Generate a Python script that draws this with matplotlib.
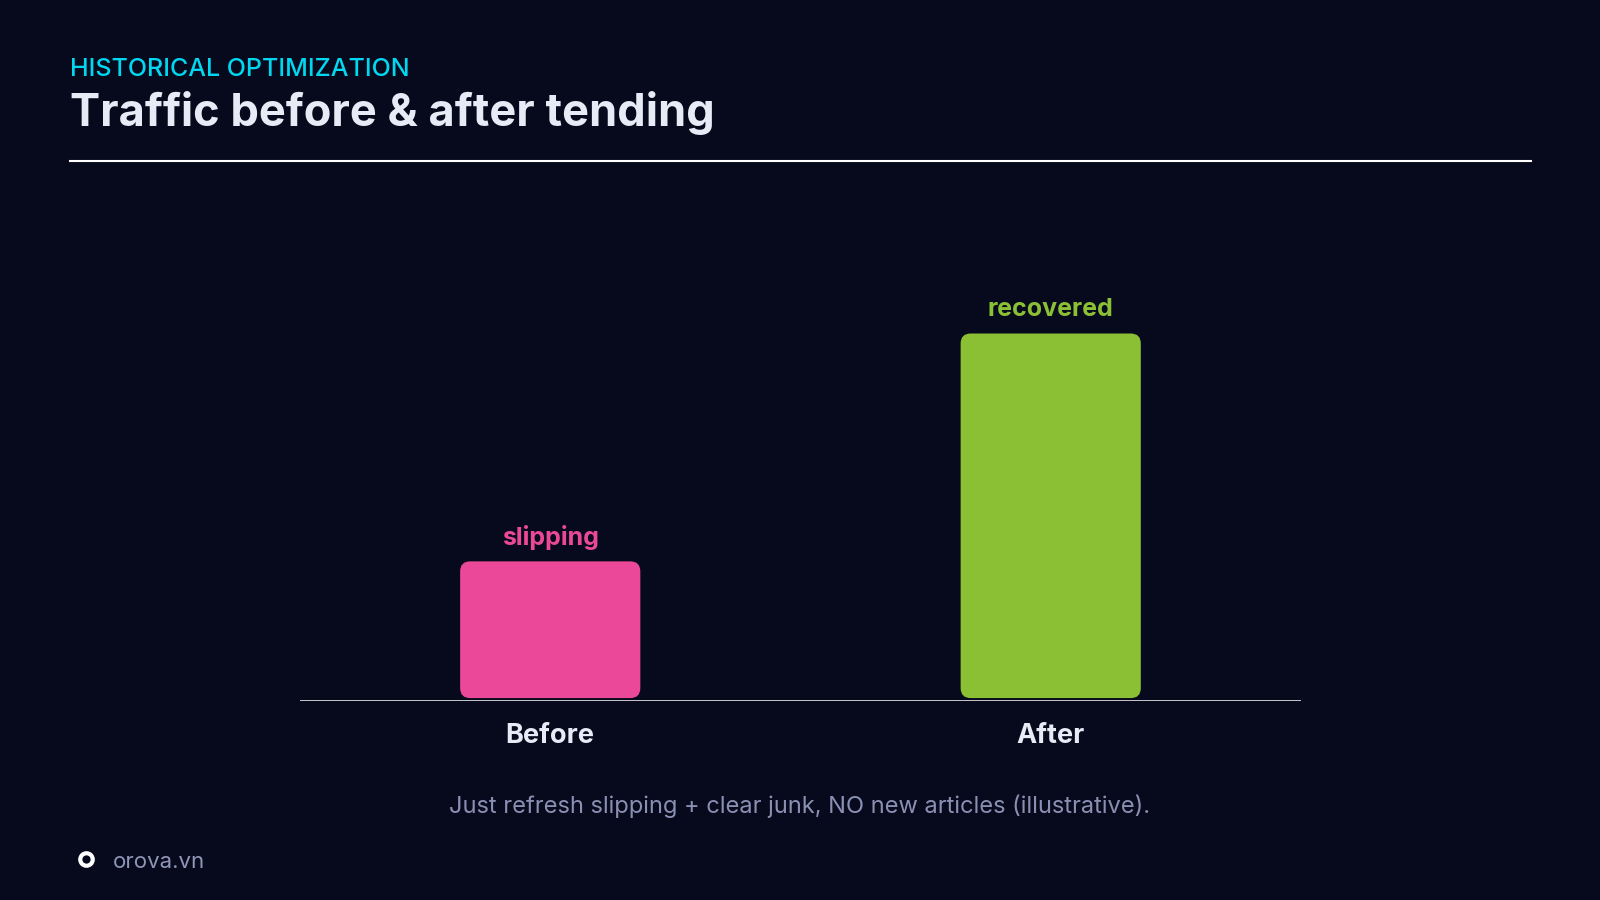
import matplotlib
matplotlib.use("Agg")
import matplotlib.pyplot as plt
from matplotlib.patches import FancyBboxPatch
from matplotlib.lines import Line2D

plt.rcParams['font.family'] = ['Inter', 'DejaVu Sans']

# Data
categories = ["Before", "After"]
values = [38, 100]
bar_labels = ["slipping", "recovered"]
bar_colors = ["#EC4899", "#8BC034"]

kicker = "HISTORICAL OPTIMIZATION"
title = "Traffic before & after tending"
footnote = "Just refresh slipping + clear junk, NO new articles (illustrative)."
brand = "orova.vn"

bg = "#070A1C"
text_light = "#E8EAF6"
muted = "#8A90B3"

fig = plt.figure(figsize=(16, 9), dpi=100, facecolor=bg)
ax = fig.add_axes([0.1875, 0.2211, 0.6256, 0.49])
ax.set_facecolor(bg)

x = list(range(len(categories)))
bars = ax.bar(x, values, width=0.36, color=bar_colors)
ax.set_xlim(-0.5, 1.5)
ax.set_ylim(0, 120)

# swap the plain bars for rounded ones with the same geometry
# (x unit = 500 px, y unit ~ 3.675 px)
aspect = (1 / 3.675) / (1 / 500)
for b, c in zip(bars, bar_colors):
    b.set_visible(False)
    rb = FancyBboxPatch((b.get_x(), 0.8), b.get_width(), b.get_height() - 0.8,
                        boxstyle="round,pad=0,rounding_size=0.02",
                        mutation_aspect=aspect, facecolor=c, edgecolor='none', zorder=2)
    ax.add_patch(rb)

for xi, v, lab, c in zip(x, values, bar_labels, bar_colors):
    ax.annotate(lab, (xi, v), xytext=(0, 17), textcoords='offset points',
                ha='center', va='center', fontsize=18, fontweight='bold', color=c)

ax.axhline(0, color='white', lw=1.8, zorder=3)
for s in ax.spines.values():
    s.set_visible(False)
ax.set_yticks([])
ax.set_xticks(x)
ax.set_xticklabels(categories, fontsize=19.5, fontweight='bold', color=text_light)
ax.tick_params(axis='x', length=0, pad=16)

# header
fig.text(0.04375, 0.9156, kicker, fontsize=18, fontweight='medium', color="#00D8F2", va='baseline')
fig.text(0.04375, 0.86, title, fontsize=32.5, fontweight='bold', color=text_light, va='baseline')
fig.add_artist(Line2D([70 / 1600, 1531 / 1600], [1 - 161 / 900] * 2, color='white', lw=1.5))

# footer
fig.text(0.5, 1 - 806 / 900, footnote, fontsize=17, color=muted, ha='center', va='center')
fig.add_artist(Line2D([86 / 1600], [1 - 859 / 900], marker='o', markersize=9,
                      markerfacecolor='none', markeredgecolor='white', markeredgewidth=3.0))
fig.text(113 / 1600, 1 - 868 / 900, brand, fontsize=16, color="#8F96B8", va='baseline')

fig.savefig("out.png", dpi=100, facecolor=bg)
